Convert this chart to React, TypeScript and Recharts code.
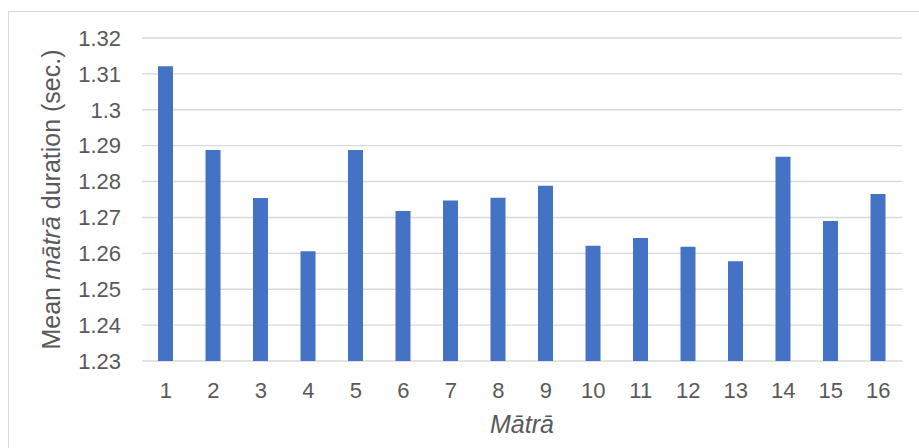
import React from 'react';
import { BarChart, Bar, XAxis, YAxis, CartesianGrid } from 'recharts';

const matras = ['1', '2', '3', '4', '5', '6', '7', '8', '9', '10', '11', '12', '13', '14', '15', '16'];
const meanDurations = [1.3121, 1.2888, 1.2754, 1.2606, 1.2888, 1.2718, 1.2747, 1.2755, 1.2788, 1.2621, 1.2643, 1.2618, 1.2578, 1.2869, 1.2690, 1.2765];
const yTicks = [1.23, 1.24, 1.25, 1.26, 1.27, 1.28, 1.29, 1.3, 1.31, 1.32];

const chartData = matras.map((m, i) => ({ matra: m, duration: meanDurations[i] }));

const FONT = '"Liberation Sans", Arial, sans-serif';
const TEXT_COLOR = '#595959';

const YTitle = (props: any) => {
  const vb = props.viewBox || {};
  const cx = 60;
  const cy = vb.y + vb.height / 2;
  return (
    <text
      x={cx}
      y={cy}
      transform={`rotate(-90, ${cx}, ${cy})`}
      textAnchor="middle"
      fill={TEXT_COLOR}
      fontSize={25}
      fontFamily={FONT}
    >
      <tspan>Mean </tspan>
      <tspan fontStyle="italic">mātrā</tspan>
      <tspan> duration (sec.)</tspan>
    </text>
  );
};

const XTitle = (props: any) => {
  const vb = props.viewBox || {};
  return (
    <text
      x={vb.x + vb.width / 2}
      y={433}
      textAnchor="middle"
      fill={TEXT_COLOR}
      fontSize={25}
      fontStyle="italic"
      fontFamily={FONT}
    >
      Mātrā
    </text>
  );
};

const App: React.FC = () => {
  return (
    <div style={{ position: 'absolute', left: 0, top: 0, width: 919, height: 448, background: '#fff', overflow: 'hidden' }}>
      <div
        style={{
          position: 'absolute',
          left: 8,
          top: 11,
          width: 940,
          height: 460,
          border: '1px solid #d9d9d9',
        }}
      />
      <div style={{ position: 'absolute', left: 0, top: 0 }}>
        <BarChart
          width={919}
          height={448}
          data={chartData}
          margin={{ top: 38, right: 17, bottom: 27, left: 0 }}
          barCategoryGap={0}
        >
          <CartesianGrid vertical={false} stroke="#d9d9d9" strokeWidth={1.4} />
          <XAxis
            dataKey="matra"
            axisLine={false}
            tickLine={false}
            tickSize={0}
            tickMargin={21}
            height={60}
            interval={0}
            tick={{ fill: TEXT_COLOR, fontSize: 22, fontFamily: FONT }}
            label={<XTitle />}
          />
          <YAxis
            width={142}
            domain={[1.23, 1.32]}
            ticks={yTicks}
            allowDataOverflow
            axisLine={false}
            tickLine={false}
            tickSize={0}
            tickMargin={21}
            tickFormatter={(v: number) => String(v)}
            tick={{ fill: TEXT_COLOR, fontSize: 22, fontFamily: FONT }}
            label={<YTitle />}
          />
          <Bar dataKey="duration" fill="#4472C4" barSize={15} isAnimationActive={false} />
        </BarChart>
      </div>
    </div>
  );
};

export default App;
